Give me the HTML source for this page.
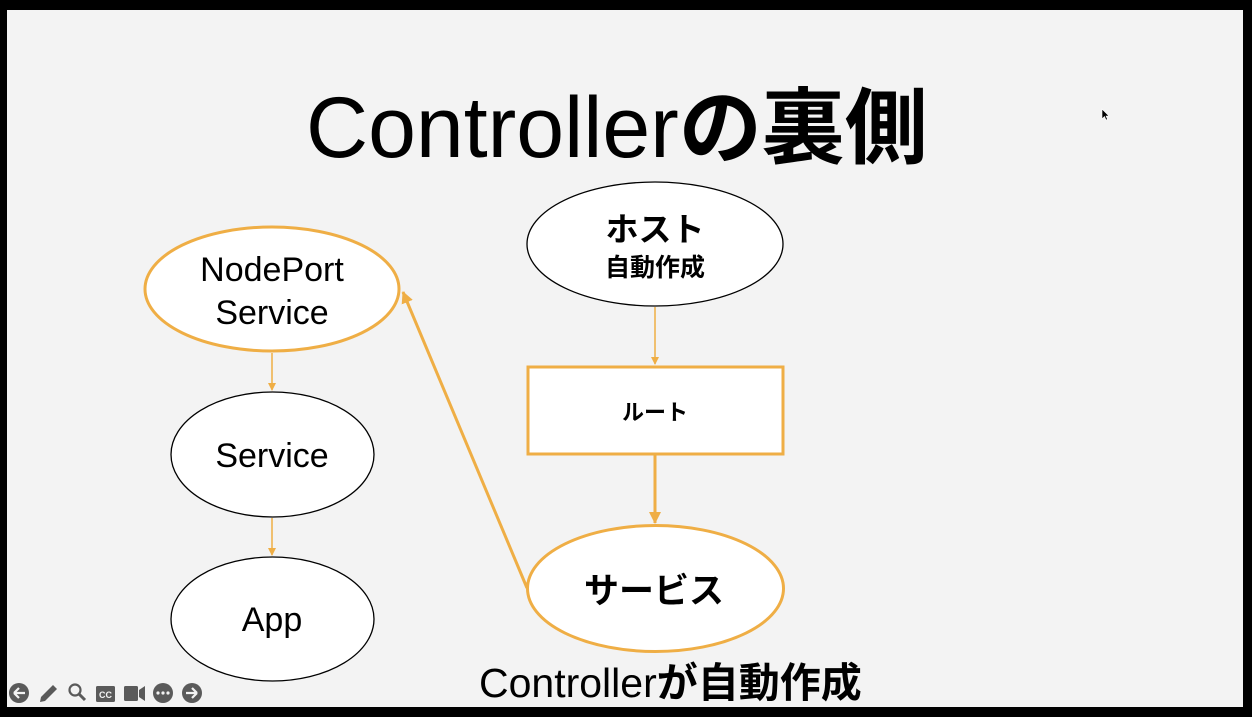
<!DOCTYPE html>
<html>
<head>
<meta charset="utf-8">
<style>
  html,body{margin:0;padding:0;}
  body{width:1252px;height:717px;background:#000;overflow:hidden;position:relative;}
  svg{position:absolute;left:0;top:0;}
</style>
</head>
<body>
<svg width="1252" height="717" viewBox="0 0 1252 717" xmlns="http://www.w3.org/2000/svg">
  <defs>
    <marker id="ahS" markerWidth="8" markerHeight="8" refX="7" refY="4" orient="auto" markerUnits="userSpaceOnUse">
      <path d="M0,0 L8,4 L0,8 Z" fill="#efae45"/>
    </marker>
    <marker id="ahL" markerWidth="12" markerHeight="12" refX="11" refY="6" orient="auto" markerUnits="userSpaceOnUse">
      <path d="M0,0 L12,6 L0,12 Z" fill="#efae45"/>
    </marker>
  </defs>
  <!-- slide -->
  <rect x="7" y="10" width="1236" height="697" fill="#f3f3f3"/>

  <!-- title -->
  <text x="306" y="157" font-family="Liberation Sans, Noto Sans CJK JP, sans-serif" font-size="86" fill="#000">Controller<tspan font-weight="bold" font-size="83" font-family="Noto Sans CJK JP, sans-serif">の裏側</tspan></text>

  <!-- connectors -->
  <line x1="272" y1="353" x2="272" y2="390" stroke="#efae45" stroke-width="1.5" marker-end="url(#ahS)"/>
  <line x1="272" y1="518" x2="272" y2="555" stroke="#efae45" stroke-width="1.5" marker-end="url(#ahS)"/>
  <line x1="655" y1="307" x2="655" y2="364" stroke="#efae45" stroke-width="1.5" marker-end="url(#ahS)"/>
  <line x1="655" y1="455" x2="655" y2="523" stroke="#efae45" stroke-width="3" marker-end="url(#ahL)"/>
  <line x1="527" y1="588" x2="403" y2="292" stroke="#efae45" stroke-width="3" marker-end="url(#ahL)"/>

  <!-- NodePort Service -->
  <ellipse cx="272" cy="289" rx="127" ry="62" fill="#fff" stroke="#efae45" stroke-width="3"/>
  <text x="272" y="281" text-anchor="middle" font-family="Liberation Sans, sans-serif" font-size="34" fill="#000">NodePort</text>
  <text x="272" y="324" text-anchor="middle" font-family="Liberation Sans, sans-serif" font-size="34" fill="#000">Service</text>

  <!-- Service -->
  <ellipse cx="272.5" cy="454.5" rx="101.5" ry="62.5" fill="#fff" stroke="#000" stroke-width="1.3"/>
  <text x="272" y="467" text-anchor="middle" font-family="Liberation Sans, sans-serif" font-size="34" fill="#000">Service</text>

  <!-- App -->
  <ellipse cx="272.5" cy="619" rx="101.5" ry="62" fill="#fff" stroke="#000" stroke-width="1.3"/>
  <text x="272" y="631" text-anchor="middle" font-family="Liberation Sans, sans-serif" font-size="34" fill="#000">App</text>

  <!-- ホスト -->
  <ellipse cx="655" cy="244" rx="128" ry="62" fill="#fff" stroke="#000" stroke-width="1.3"/>
  <text x="655" y="241" text-anchor="middle" font-family="Noto Sans CJK JP, sans-serif" font-weight="bold" font-size="33" fill="#000">ホスト</text>
  <text x="655" y="276" text-anchor="middle" font-family="Noto Sans CJK JP, sans-serif" font-weight="bold" font-size="25" fill="#000">自動作成</text>

  <!-- ルート -->
  <rect x="528" y="367" width="255" height="87" fill="#fff" stroke="#efae45" stroke-width="3"/>
  <text x="655" y="420" text-anchor="middle" font-family="Noto Sans CJK JP, sans-serif" font-weight="bold" font-size="22" fill="#000">ルート</text>

  <!-- サービス -->
  <ellipse cx="655.5" cy="588.5" rx="128" ry="63" fill="#fff" stroke="#efae45" stroke-width="3"/>
  <text x="654" y="603" text-anchor="middle" font-family="Noto Sans CJK JP, sans-serif" font-weight="bold" font-size="35" fill="#000">サービス</text>

  <!-- bottom caption -->
  <text x="479" y="697" font-family="Liberation Sans, Noto Sans CJK JP, sans-serif" font-size="41" fill="#000">Controller<tspan font-weight="bold" font-family="Noto Sans CJK JP, sans-serif">が自動作成</tspan></text>

  <!-- cursor -->
  <path d="M1102,109 L1102,119 L1104.5,116.5 L1106,120 L1107.5,119.3 L1106,116 L1109,116 Z" fill="#000" stroke="#fff" stroke-width="0.6"/>

  <!-- toolbar -->
  <g fill="#5a5a5a">
    <circle cx="19" cy="693" r="10"/>
    <path d="M14,693 L19,688 M14,693 L19,698 M14,693 L25,693" stroke="#f3f3f3" stroke-width="2.2" fill="none"/>
    <path d="M40,702 L41,697 L53,685 L57,689 L45,701 Z"/>
    <circle cx="75" cy="690" r="5.5" fill="none" stroke="#5a5a5a" stroke-width="2.2"/>
    <path d="M79,694 L85,700" stroke="#5a5a5a" stroke-width="3" fill="none"/>
    <rect x="96" y="686" width="19" height="16" rx="1.5"/>
    <text x="105.5" y="698" text-anchor="middle" font-family="Liberation Sans, sans-serif" font-weight="bold" font-size="9" fill="#f3f3f3">CC</text>
    <rect x="124" y="686" width="14" height="15" rx="1.5"/>
    <path d="M139,690 L145,686 L145,701 L139,697 Z"/>
    <circle cx="163" cy="693" r="10"/>
    <circle cx="158" cy="693" r="1.6" fill="#f3f3f3"/>
    <circle cx="163" cy="693" r="1.6" fill="#f3f3f3"/>
    <circle cx="168" cy="693" r="1.6" fill="#f3f3f3"/>
    <circle cx="192" cy="693" r="10"/>
    <path d="M197,693 L192,688 M197,693 L192,698 M197,693 L186,693" stroke="#f3f3f3" stroke-width="2.2" fill="none"/>
  </g>
</svg>
</body>
</html>
